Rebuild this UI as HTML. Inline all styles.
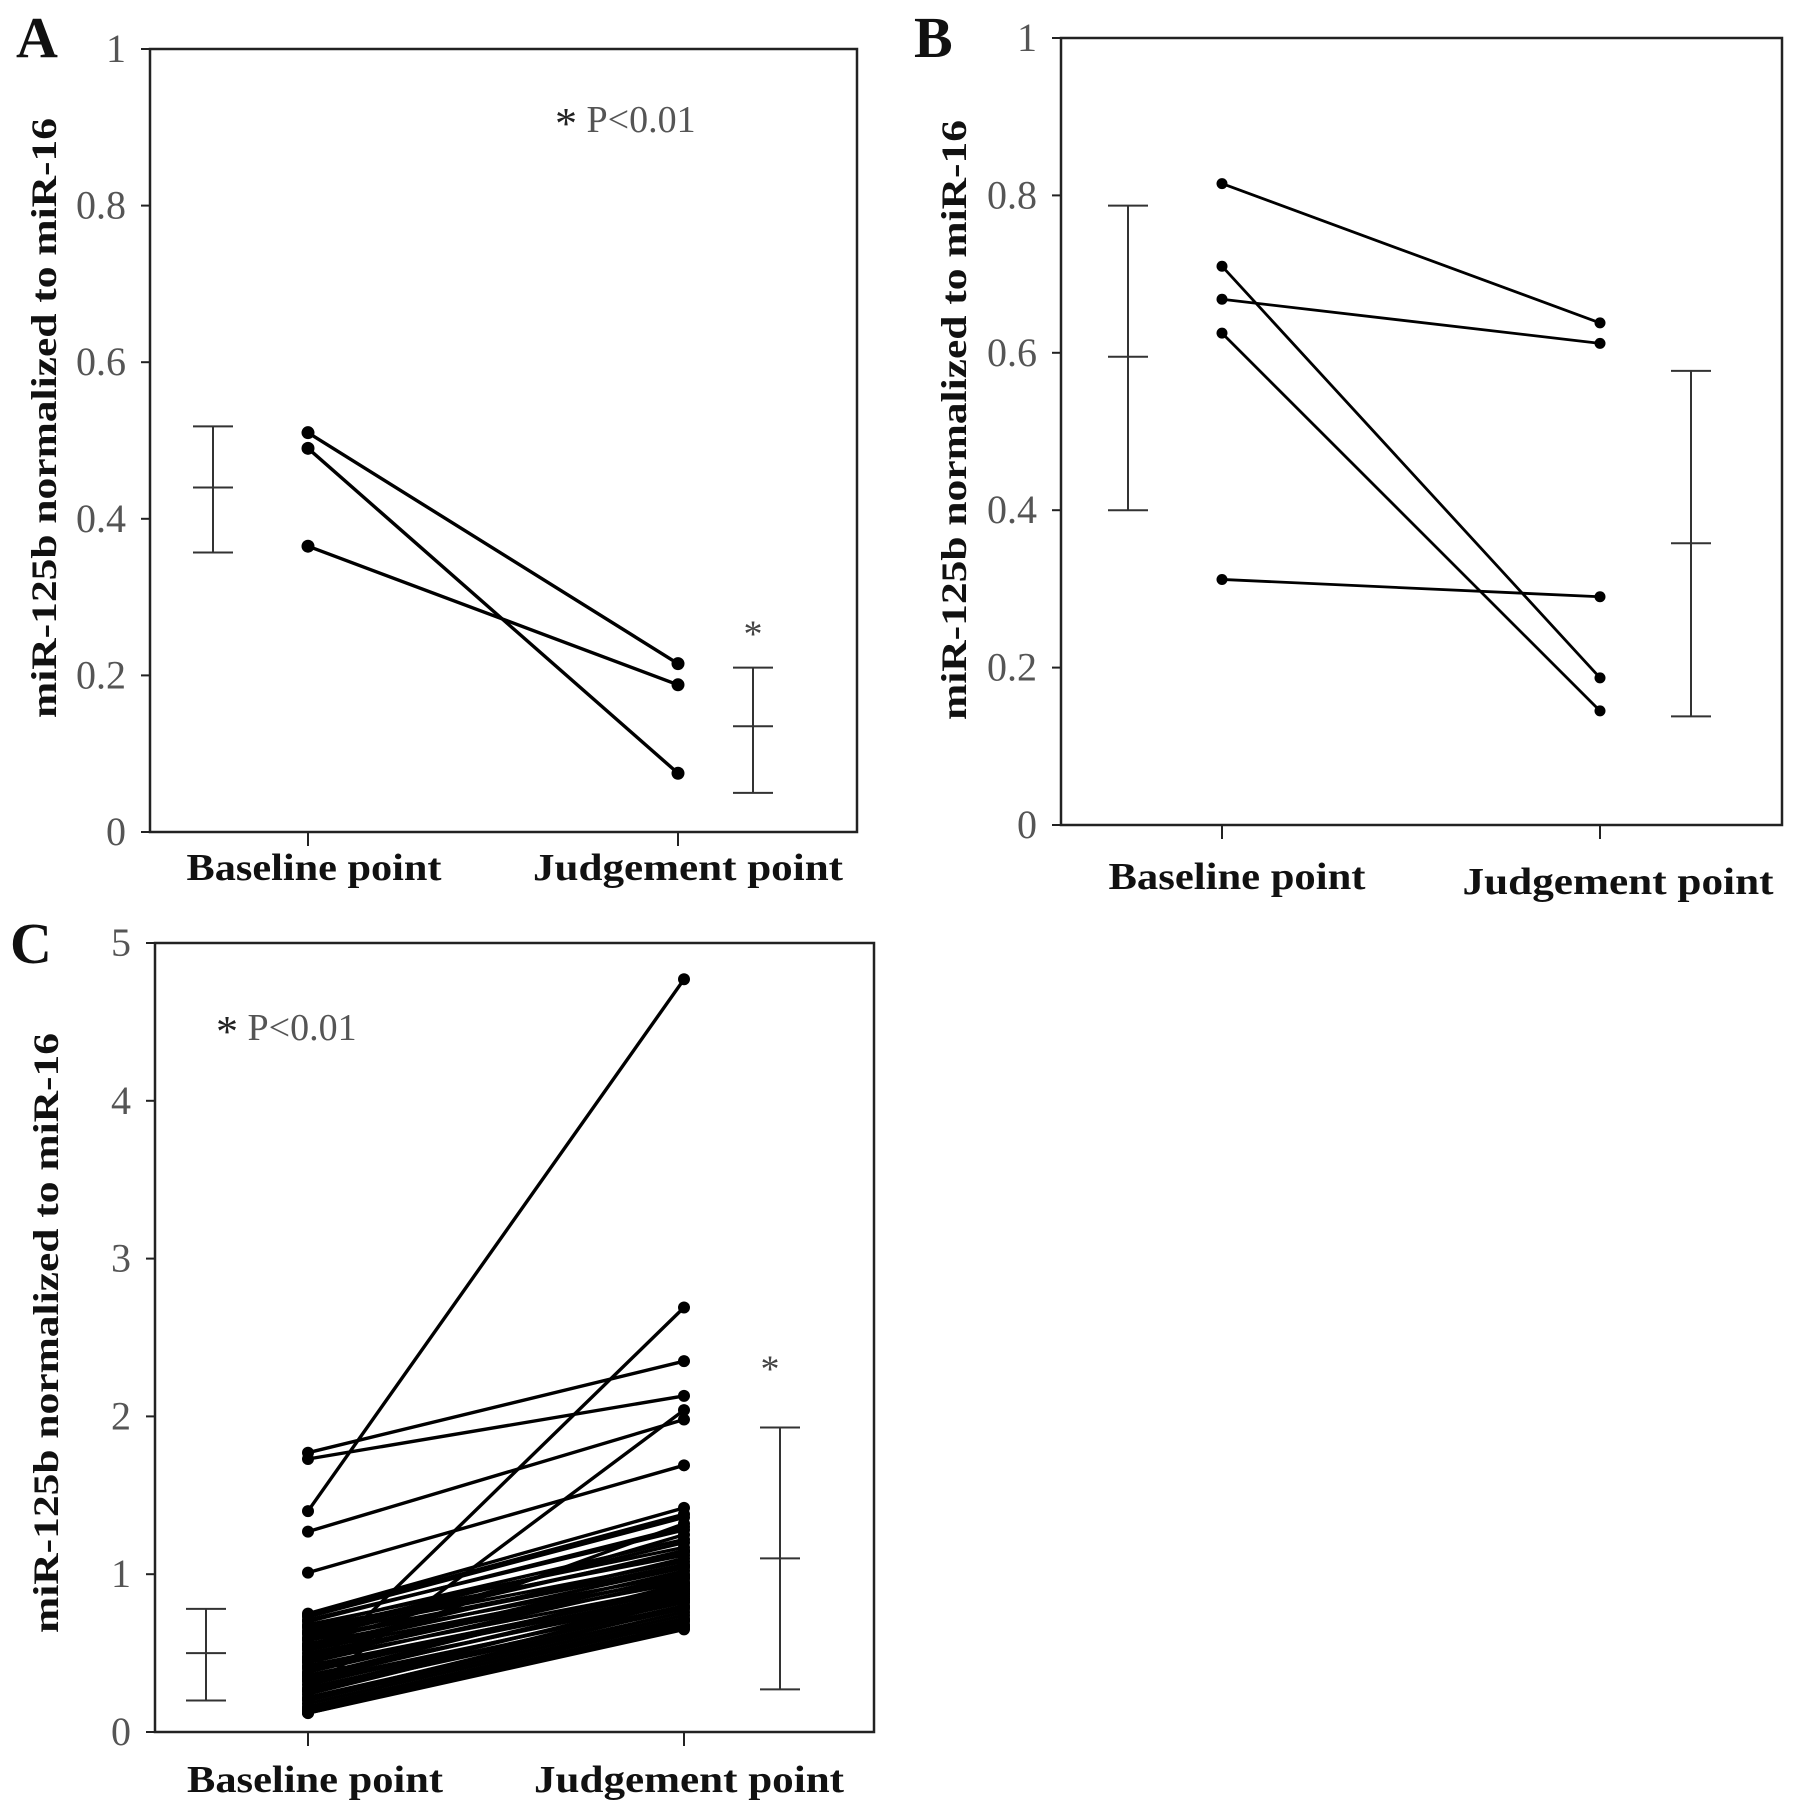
<!DOCTYPE html>
<html><head><meta charset="utf-8"><style>
html,body{margin:0;padding:0;background:#fff;}
svg{display:block;}
text{font-family:"Liberation Serif",serif;}
</style></head><body>
<svg id="fig" width="1795" height="1818" viewBox="0 0 1795 1818" xmlns="http://www.w3.org/2000/svg"></svg>
<script>
// ---------- Panel A data ----------
const aCategories = ["Baseline point", "Judgement point"];
const aBaseline = [0.51, 0.49, 0.365];
const aJudgement = [0.215, 0.075, 0.188];
const aErrMean = [0.44, 0.135];
const aErrLow = [0.357, 0.05];
const aErrHigh = [0.518, 0.21];
const aTicks = [0, 0.2, 0.4, 0.6, 0.8, 1];
const aTickLabels = ["0", "0.2", "0.4", "0.6", "0.8", "1"];

// ---------- Panel B data ----------
const bCategories = ["Baseline point", "Judgement point"];
const bBaseline = [0.815, 0.71, 0.668, 0.625, 0.312];
const bJudgement = [0.638, 0.187, 0.612, 0.145, 0.29];
const bErrMean = [0.595, 0.358];
const bErrLow = [0.40, 0.138];
const bErrHigh = [0.787, 0.577];
const bTicks = [0, 0.2, 0.4, 0.6, 0.8, 1];
const bTickLabels = ["0", "0.2", "0.4", "0.6", "0.8", "1"];

// ---------- Panel C data ----------
const cCategories = ["Baseline point", "Judgement point"];
const cBaseline = [1.40, 1.77, 1.73, 1.27, 1.01, 0.37, 0.26,
  0.75, 0.73, 0.70, 0.68, 0.66, 0.64, 0.62, 0.60, 0.58, 0.56, 0.54, 0.52, 0.50,
  0.48, 0.46, 0.44, 0.42, 0.40, 0.38, 0.36, 0.34, 0.32, 0.30, 0.28, 0.26, 0.24,
  0.22, 0.20, 0.18, 0.16, 0.14, 0.13, 0.12, 0.45, 0.55, 0.35,
  0.74, 0.71, 0.67, 0.63, 0.59, 0.53, 0.47, 0.41, 0.33, 0.27, 0.21, 0.15, 0.12];
const cJudgement = [4.77, 2.35, 2.13, 1.98, 1.69, 2.69, 2.04,
  1.42, 1.36, 1.30, 1.17, 1.12, 1.20, 1.08, 1.15, 1.05, 1.00, 1.10, 0.98, 0.95,
  1.02, 0.92, 0.97, 0.90, 0.88, 0.93, 0.85, 0.87, 0.82, 0.84, 0.80, 0.78, 0.83,
  0.76, 0.74, 0.72, 0.70, 0.68, 0.66, 0.65, 1.32, 1.25, 0.94,
  1.38, 1.28, 1.22, 1.14, 1.06, 1.04, 0.99, 0.91, 0.89, 0.86, 0.79, 0.71, 0.67];
const cErrMean = [0.5, 1.1];
const cErrLow = [0.2, 0.27];
const cErrHigh = [0.78, 1.93];
const cTicks = [0, 1, 2, 3, 4, 5];
const cTickLabels = ["0", "1", "2", "3", "4", "5"];

const NS = "http://www.w3.org/2000/svg";
const svg = document.getElementById("fig");
function mk(tag, attrs, parent) {
  const e = document.createElementNS(NS, tag);
  for (const k in attrs) e.setAttribute(k, attrs[k]);
  (parent || svg).appendChild(e);
  return e;
}

function panel(cfg) {
  const g = mk("g", {});
  
  
  const y = v => cfg.y0 - (v - cfg.vmin) / (cfg.vmax - cfg.vmin) * (cfg.y0 - cfg.y1);
  const xCat = i => cfg.catX[i];
  const frame = mk("rect", {x: cfg.x0, y: cfg.y1, width: cfg.x1 - cfg.x0, height: cfg.y0 - cfg.y1, fill: "none", stroke: "#222", "stroke-width": 2.5}, g);
  
  
  cfg.ticks.forEach((t, i) => {
    const tk = mk("line", {x1: cfg.x0 - 9, x2: cfg.x0, y1: y(t), y2: y(t), stroke: "#222", "stroke-width": 2}, g);
    
    
    const tl = mk("text", {x: cfg.x0 - 24, y: y(t) + 13, "text-anchor": "end", "font-size": 40, fill: "#555"}, g);
    tl.textContent = cfg.tickLabels[i];
    
    
  });
  cfg.cats.forEach((c, i) => {
    const tk = mk("line", {x1: xCat(i), x2: xCat(i), y1: cfg.y0, y2: cfg.y0 + 14, stroke: "#222", "stroke-width": 2}, g);
    
    
    const tl = mk("text", {x: cfg.labX[i], y: cfg.labY[i], "text-anchor": "middle", "font-size": 38, "font-weight": "bold", fill: "#111", textLength: cfg.labW[i], lengthAdjust: "spacingAndGlyphs"}, g);
    tl.textContent = c;
    
    
  });
  const yt = mk("text", {x: 0, y: 0, transform: `translate(${cfg.titleX},${cfg.titleY}) rotate(-90)`, "text-anchor": "middle", "font-size": 36, "font-weight": "bold", fill: "#111", textLength: 600, lengthAdjust: "spacingAndGlyphs"}, g);
  yt.textContent = "miR-125b normalized to miR-16";
  
  
  const pl = mk("text", {x: cfg.letterX, y: cfg.letterY, "font-size": 58, "font-weight": "bold", fill: "#111"}, g);
  pl.textContent = cfg.id;
  
  
  cfg.base.forEach((b, i) => {
    const ln = mk("line", {x1: xCat(0), y1: y(b), x2: xCat(1), y2: y(cfg.judge[i]), stroke: "#000", "stroke-width": cfg.lw}, g);
    
    
  });
  cfg.base.forEach((b, i) => {
    const p1 = mk("circle", {cx: xCat(0), cy: y(b), r: cfg.r, fill: "#000"}, g);
    
    
    const p2 = mk("circle", {cx: xCat(1), cy: y(cfg.judge[i]), r: cfg.r, fill: "#000"}, g);
    
    
  });
  cfg.errX.forEach((ex, i) => {
    const eg = mk("g", {stroke: "#333", "stroke-width": 2}, g);
    
    
    mk("line", {x1: ex, x2: ex, y1: y(cfg.errLow[i]), y2: y(cfg.errHigh[i])}, eg);
    mk("line", {x1: ex - 20, x2: ex + 20, y1: y(cfg.errLow[i]), y2: y(cfg.errLow[i])}, eg);
    mk("line", {x1: ex - 20, x2: ex + 20, y1: y(cfg.errHigh[i]), y2: y(cfg.errHigh[i])}, eg);
    mk("line", {x1: ex - 20, x2: ex + 20, y1: y(cfg.errMean[i]), y2: y(cfg.errMean[i])}, eg);
  });
  if (cfg.star) {
    const st = mk("text", {x: cfg.star[0], y: y(cfg.star[1]) + 22, "text-anchor": "middle", "font-size": 38, fill: "#444"}, g);
    st.textContent = "*";
    
    
  }
  if (cfg.p) {
    const pt = mk("text", {x: cfg.p[0], y: cfg.p[1], "font-size": 38, fill: "#555"}, g);
    pt.innerHTML = '<tspan font-size="44" fill="#222" dy="6">*</tspan><tspan dy="-6"> P&lt;0.01</tspan>';
    
    
  }
}

panel({id: "A", x0: 150, x1: 857, y0: 832, y1: 49, vmin: 0, vmax: 1,
  ticks: aTicks, tickLabels: aTickLabels, cats: aCategories, catX: [308, 678],
  labX: [314, 688], labY: [880, 880], labW: [255, 310], titleX: 56, titleY: 418,
  letterX: 16, letterY: 57, base: aBaseline, judge: aJudgement, lw: 3.4, r: 6.5,
  errX: [213, 753], errLow: aErrLow, errHigh: aErrHigh, errMean: aErrMean,
  star: [753, 0.265], p: [555, 132]});

panel({id: "B", x0: 1061, x1: 1782, y0: 825, y1: 38, vmin: 0, vmax: 1,
  ticks: bTicks, tickLabels: bTickLabels, cats: bCategories, catX: [1222, 1600],
  labX: [1237, 1618], labY: [889, 894], labW: [257, 311], titleX: 966, titleY: 420,
  letterX: 914, letterY: 57, base: bBaseline, judge: bJudgement, lw: 2.8, r: 5.5,
  errX: [1128, 1691], errLow: bErrLow, errHigh: bErrHigh, errMean: bErrMean});

panel({id: "C", x0: 155, x1: 874, y0: 1732, y1: 943, vmin: 0, vmax: 5,
  ticks: cTicks, tickLabels: cTickLabels, cats: cCategories, catX: [308, 684],
  labX: [315, 689], labY: [1792, 1792], labW: [256, 310], titleX: 58, titleY: 1333,
  letterX: 10, letterY: 963, base: cBaseline, judge: cJudgement, lw: 3.4, r: 6,
  errX: [206, 780], errLow: cErrLow, errHigh: cErrHigh, errMean: cErrMean,
  star: [770, 2.36], p: [216, 1040]});
</script>
</body></html>
